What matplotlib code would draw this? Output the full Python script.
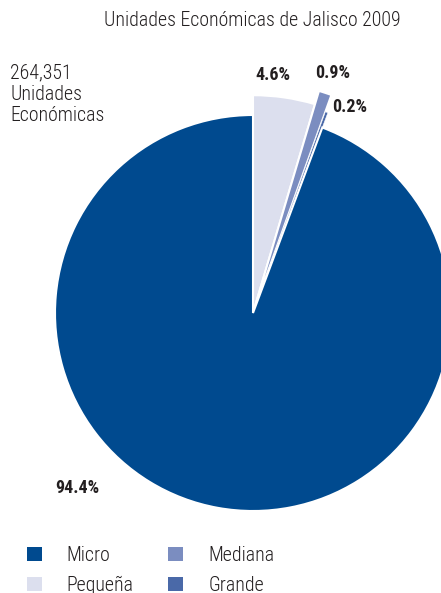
import matplotlib.pyplot as plt
from matplotlib.patches import Patch

W, H = 441, 593

# data
categorias = ["Pequeña", "Mediana", "Grande", "Micro"]
porcentajes = [4.6, 0.9, 0.2, 94.4]
etiquetas = ["4.6%", "0.9%", "0.2%", "94.4%"]
colores = ["#dcdfee", "#7b8dc0", "#4a69a8", "#004a8f"]
legend_order = ["Micro", "Pequeña", "Mediana", "Grande"]
titulo = "Unidades Económicas de Jalisco 2009"
total_txt = "264,351\nUnidades\nEconómicas"

font = ["Roboto Condensed", "DejaVu Sans"]

fig = plt.figure(figsize=(W / 100, H / 100), dpi=100)
ax = fig.add_axes([0, 0, 1, 1])
ax.axis("off")

cx, cy, r = 253, H - 313, 198
wedges, _ = ax.pie(porcentajes, colors=colores, startangle=90, counterclock=False,
                   center=(cx, cy), radius=r, explode=[0, 0.03, 0.025, 0],
                   wedgeprops=dict(edgecolor="white", linewidth=1.5))
ax.set_xlim(0, W)
ax.set_ylim(0, H)
ax.set_aspect("equal")

# the small slices stick out further than Micro
wedges[0].set_radius(r * 1.10)
wedges[1].set_radius(r * 1.17)
wedges[2].set_radius(r * 1.08)
wedges[2].set_linewidth(0.4)  # tiny slice, keep it visible

# percentage labels
lab_pos = [(273, 75), (333, 73), (350, 107), (77, 488)]
for t, (x, y) in zip(etiquetas, lab_pos):
    ax.text(x, H - y, t, ha="center", va="center", fontsize=13, fontweight="bold",
            color="#231f20", family=font)

ax.text(401, H - 20, titulo, ha="right", va="center", fontsize=14.3,
        color="#231f20", family=font, fontweight="light")
ax.text(10, H - 63, total_txt, ha="left", va="top", fontsize=14.3,
        color="#231f20", family=font, fontweight="light", linespacing=1.17)

col = dict(zip(categorias, colores))
handles = [Patch(facecolor=col[c], edgecolor="none", label=c) for c in legend_order]
leg = ax.legend(handles=handles, ncol=2, loc="upper left",
                bbox_to_anchor=(27 / W, 1 - 546 / H), frameon=False,
                prop=dict(family=font, size=14.3, weight="light"), handlelength=0.75,
                handleheight=0.75, handletextpad=1.25, labelspacing=0.55,
                columnspacing=1.75, borderpad=0, borderaxespad=0)
for t in leg.get_texts():
    t.set_color("#231f20")

fig.savefig("out.png", dpi=100)
